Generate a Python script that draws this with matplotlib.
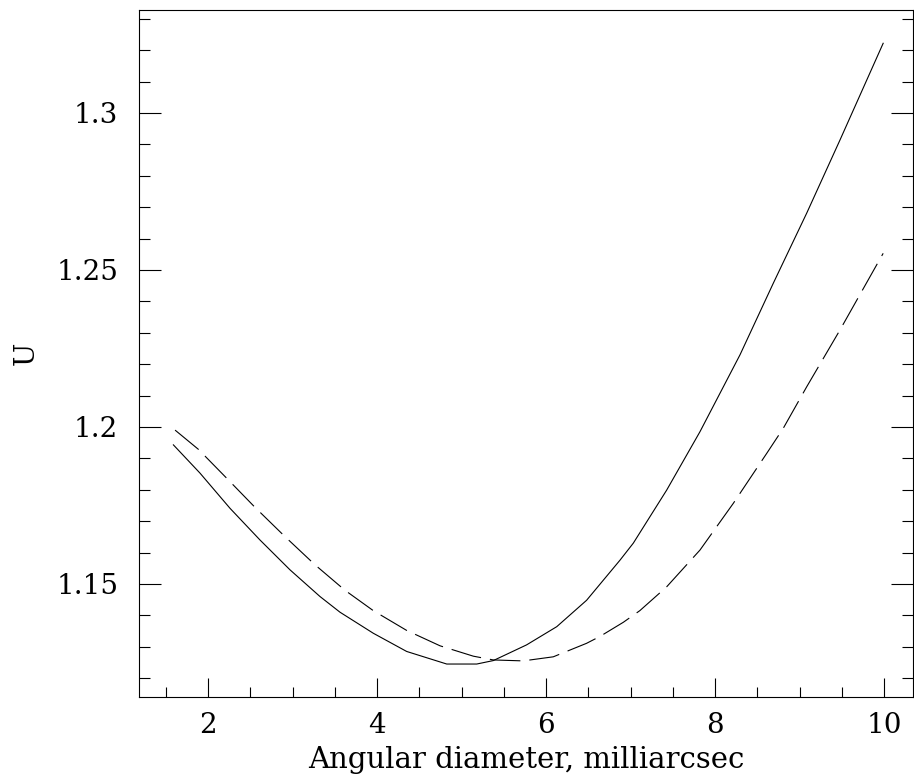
import numpy as np
import matplotlib
matplotlib.use("Agg")
import matplotlib.pyplot as plt
from matplotlib.ticker import MultipleLocator

# Values
diam_solid = [1.59, 1.905, 2.26, 2.615, 2.97, 3.325, 3.562, 3.956, 4.351, 4.825, 5.18, 5.376,
              5.77, 6.127, 6.48, 6.876, 7.033, 7.428, 7.822, 8.296, 8.69, 9.085, 9.479, 9.99]
u_solid = [1.1943, 1.1853, 1.1741, 1.1640, 1.1545, 1.1460, 1.1410, 1.1343, 1.1285, 1.1245, 1.1245, 1.1256,
           1.1306, 1.1364, 1.1448, 1.1576, 1.1630, 1.1799, 1.1985, 1.2230, 1.2458, 1.2681, 1.2914, 1.3222]

diam_dashed = [1.61, 1.885, 2.22, 2.556, 2.91, 3.266, 3.62, 3.956, 4.351, 4.746, 5.14, 5.376, 5.73,
               6.086, 6.48, 6.639, 6.915, 7.11, 7.428, 7.822, 8.217, 8.612, 8.808, 9.085, 9.479, 9.99]
u_dashed = [1.1990, 1.1929, 1.1837, 1.1744, 1.1651, 1.1561, 1.1480, 1.1415, 1.1352, 1.1303, 1.1270, 1.1258, 1.1255,
            1.1268, 1.1311, 1.1333, 1.1378, 1.1415, 1.1491, 1.1608, 1.1757, 1.1916, 1.1996, 1.2128, 1.2309, 1.2553]

plt.rcParams['font.family'] = ['DejaVu Serif']
plt.rcParams['lines.scale_dashes'] = False

fig = plt.figure(figsize=(9.14, 7.78), dpi=100)
ax = fig.add_axes([139/914, 1 - 697/778, (913 - 139)/914, (697 - 10)/778])

ax.plot(diam_solid, u_solid, color='black', lw=0.8)
ax.plot(diam_dashed, u_dashed, color='black', lw=0.8, ls=(0, (22, 6.5)))

ax.set_xlim(1.183, 10.343)
ax.set_ylim(1.1140, 1.3328)

ax.xaxis.set_major_locator(MultipleLocator(2))
ax.xaxis.set_minor_locator(MultipleLocator(0.5))
ax.yaxis.set_major_locator(MultipleLocator(0.05))
ax.yaxis.set_minor_locator(MultipleLocator(0.01))
ax.yaxis.set_major_formatter(plt.FuncFormatter(lambda v, p: f"{v:.2f}".rstrip('0')))

ax.tick_params(which='both', direction='in', top=False, right=True, width=0.8, labelsize=20)
ax.tick_params(axis='x', which='major', length=14, pad=11)
ax.tick_params(axis='x', which='minor', length=7)
ax.tick_params(axis='y', which='major', length=16, pad=15)
ax.tick_params(axis='y', which='minor', length=8)
for s in ax.spines.values():
    s.set_linewidth(0.8)

ax.set_xlabel('Angular diameter, milliarcsec', fontsize=21, labelpad=5)
ax.set_ylabel('U', fontsize=20, labelpad=12)

fig.savefig('out.png', dpi=100)
